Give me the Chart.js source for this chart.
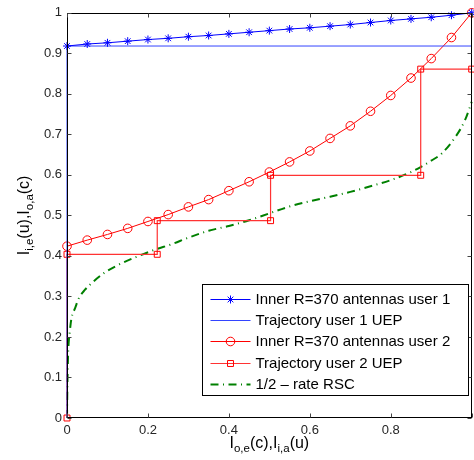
<!DOCTYPE html>
<html>
<head>
<meta charset="utf-8">
<script src="https://cdn.jsdelivr.net/npm/chart.js@4/dist/chart.umd.min.js"></script>
<style>
  html, body { margin: 0; padding: 0; background: #fff; overflow: hidden; }
  #wrap { width: 474px; height: 460px; overflow: hidden; }
  canvas { display: block; }
</style>
</head>
<body>
<div id="wrap"><canvas id="exitChart" width="477" height="460"></canvas></div>
<script>
// === DATOS ===
const seriesNames = [
    "Inner R=370 antennas user 1",
    "Trajectory user 1 UEP",
    "Inner R=370 antennas user 2",
    "Trajectory user 2 UEP",
    "1/2 \u2013 rate RSC"
];

// curvas de 0 a 1 cada 0.05
const innerX = [0, 0.05, 0.1, 0.15, 0.2, 0.25, 0.3, 0.35, 0.4, 0.45, 0.5,
                0.55, 0.6, 0.65, 0.7, 0.75, 0.8, 0.85, 0.9, 0.95, 1];
const inner1Y = [0.918, 0.923, 0.926, 0.930, 0.934, 0.937, 0.941, 0.944, 0.948, 0.952, 0.956,
                 0.960, 0.963, 0.967, 0.971, 0.976, 0.981, 0.985, 0.989, 0.994, 1.0];
const inner2Y = [0.424, 0.439, 0.453, 0.468, 0.485, 0.502, 0.521, 0.539, 0.561, 0.583, 0.607,
                 0.632, 0.659, 0.690, 0.721, 0.757, 0.796, 0.839, 0.887, 0.939, 1.0];

const traj1X = [0, 0, 1];
const traj1Y = [0, 0.918, 0.918];

const traj2X = [0, 0, 0.223, 0.223, 0.503, 0.503, 0.874, 0.874, 1];
const traj2Y = [0, 0.404, 0.404, 0.487, 0.487, 0.599, 0.599, 0.861, 0.861];

const rscX = [0, 0.0008, 0.002, 0.003, 0.007, 0.011, 0.02, 0.029, 0.044, 0.06, 0.089, 0.125, 0.17,
              0.219, 0.259, 0.3, 0.35, 0.4, 0.45, 0.5, 0.55, 0.6, 0.65, 0.7, 0.75, 0.8, 0.85,
              0.875, 0.9, 0.926, 0.96, 0.983, 1];
const rscY = [0, 0.07, 0.13, 0.165, 0.214, 0.246, 0.271, 0.295, 0.316, 0.332, 0.356, 0.377, 0.397,
              0.416, 0.429, 0.445, 0.462, 0.474, 0.488, 0.505, 0.522, 0.535, 0.546, 0.558, 0.572, 0.587, 0.607,
              0.620, 0.635, 0.653, 0.694, 0.734, 0.78];

const xTickValues = [0, 0.2, 0.4, 0.6, 0.8, 1];
const yTickValues = [0, 0.1, 0.2, 0.3, 0.4, 0.5, 0.6, 0.7, 0.8, 0.9, 1];

const FONT = '"Liberation Sans", Arial, Helvetica, sans-serif';
const pts = (xs, ys) => xs.map((x, i) => ({ x: x, y: ys[i] }));

// marco con ticks hacia dentro (estilo matlab)
const axisBox = {
    id: "axisBox",
    afterDatasetsDraw(chart) {
        const { ctx, chartArea: a, scales: { x, y } } = chart;
        const L = Math.round(a.left) + 0.5, R = Math.round(a.right) - 0.5;
        const T = Math.round(a.top) + 0.5, B = Math.round(a.bottom) - 0.5;
        ctx.save();
        ctx.lineWidth = 1;
        ctx.strokeStyle = "#000";
        ctx.strokeRect(L, T, R - L, B - T);
        ctx.strokeStyle = "#444";
        ctx.beginPath();
        x.ticks.forEach(t => {
            const px = Math.round(x.getPixelForValue(t.value)) + 0.5;
            ctx.moveTo(px, B); ctx.lineTo(px, B - 4);
            ctx.moveTo(px, T); ctx.lineTo(px, T + 4);
        });
        y.ticks.forEach(t => {
            const py = Math.round(y.getPixelForValue(t.value)) + 0.5;
            ctx.moveTo(L, py); ctx.lineTo(L + 4, py);
            ctx.moveTo(R, py); ctx.lineTo(R - 4, py);
        });
        ctx.stroke();
        ctx.restore();
    }
};

// texto con subindices
function drawSubText(ctx, parts, cx, cy) {
    const main = "16px " + FONT, sub = "11.5px " + FONT;
    let w = 0;
    parts.forEach(([t, s]) => { ctx.font = s ? sub : main; w += ctx.measureText(t).width; });
    let xx = cx - w / 2;
    parts.forEach(([t, s]) => {
        ctx.font = s ? sub : main;
        ctx.fillText(t, xx, cy + (s ? 4 : 0));
        xx += ctx.measureText(t).width;
    });
}

const axisTitles = {
    id: "axisTitles",
    afterDraw(chart) {
        const { ctx, chartArea: a } = chart;
        ctx.save();
        ctx.fillStyle = "#000";
        ctx.textBaseline = "alphabetic";
        ctx.textAlign = "left";
        drawSubText(ctx, [["I", 0], ["o,e", 1], ["(c),I", 0], ["i,a", 1], ["(u)", 0]],
                    (a.left + a.right) / 2, 448);
        ctx.translate(29, (a.top + a.bottom) / 2);
        ctx.rotate(-Math.PI / 2);
        drawSubText(ctx, [["I", 0], ["i,e", 1], ["(u),I", 0], ["o,a", 1], ["(c)", 0]], 0, 0);
        ctx.restore();
    }
};

// leyenda dentro del area
const boxLegend = {
    id: "boxLegend",
    afterDraw(chart) {
        const ctx = chart.ctx;
        const bx = 202.5, by = 284.5, bw = 266, bh = 111;
        ctx.save();
        ctx.fillStyle = "#fff";
        ctx.fillRect(bx, by, bw, bh);
        ctx.strokeStyle = "#000";
        ctx.lineWidth = 1;
        ctx.strokeRect(bx, by, bw, bh);
        ctx.textBaseline = "middle";
        chart.data.datasets.forEach((ds, i) => {
            const ry = Math.round(by + 14 + i * 21.4) + 0.5;
            ctx.save();
            ctx.strokeStyle = ds.borderColor;
            ctx.lineWidth = ds.borderWidth;
            ctx.setLineDash(ds.borderDash || []);
            ctx.beginPath();
            ctx.moveTo(bx + 8, ry); ctx.lineTo(bx + 48, ry);
            ctx.stroke();
            ctx.restore();
            if (ds.pointRadius > 0) {
                ctx.save();
                ctx.strokeStyle = ds.pointBorderColor;
                ctx.fillStyle = "rgba(0,0,0,0)";
                ctx.lineWidth = 1;
                Chart.helpers.drawPoint(ctx, { pointStyle: ds.pointStyle, radius: ds.pointRadius, rotation: 0, borderWidth: 1 }, bx + 28, ry);
                ctx.restore();
            }
            ctx.fillStyle = "#000";
            ctx.font = "15px " + FONT;
            ctx.fillText(ds.label, bx + 53, ry);
        });
        ctx.restore();
    }
};

const exitChart = new Chart(document.getElementById("exitChart"), {
    type: "scatter",
    data: {
        datasets: [
            {
                label: seriesNames[0],
                data: pts(innerX, inner1Y),
                showLine: true,
                borderColor: "#0000ff",
                borderWidth: 1,
                pointStyle: "star",
                pointRadius: 4,
                pointBorderColor: "#0000ff",
                pointBackgroundColor: "rgba(0,0,0,0)",
                pointBorderWidth: 1,
                clip: false
            },
            {
                label: seriesNames[1],
                data: pts(traj1X, traj1Y),
                showLine: true,
                borderColor: "#3344ff",
                borderWidth: 1,
                pointRadius: 0,
                clip: false
            },
            {
                label: seriesNames[2],
                data: pts(innerX, inner2Y),
                showLine: true,
                borderColor: "#ff0000",
                borderWidth: 1,
                pointStyle: "circle",
                pointRadius: 4.3,
                pointBorderColor: "#ff0000",
                pointBackgroundColor: "rgba(0,0,0,0)",
                pointBorderWidth: 1,
                clip: false
            },
            {
                label: seriesNames[3],
                data: pts(traj2X, traj2Y),
                showLine: true,
                borderColor: "#ff3333",
                borderWidth: 1.2,
                pointStyle: "rect",
                pointRadius: 4.2,
                pointBorderColor: "#ff0000",
                pointBackgroundColor: "rgba(0,0,0,0)",
                pointBorderWidth: 1,
                clip: false
            },
            {
                label: seriesNames[4],
                data: pts(rscX, rscY),
                showLine: true,
                borderColor: "#008000",
                borderWidth: 2,
                borderDash: [8, 4.5, 1, 4.5],
                cubicInterpolationMode: "monotone",
                pointRadius: 0,
                clip: false
            }
        ]
    },
    options: {
        responsive: false,
        animation: false,
        devicePixelRatio: 1,
        events: [],
        layout: { padding: { top: 8, left: 0, right: 0, bottom: 0 } },
        plugins: {
            legend: { display: false },
            tooltip: { enabled: false }
        },
        scales: {
            x: {
                type: "linear",
                min: 0,
                max: 1,
                afterBuildTicks: s => { s.ticks = xTickValues.map(v => ({ value: v })); },
                afterFit: s => { s.height = 42; },
                grid: { display: false, drawTicks: false },
                border: { display: false },
                ticks: {
                    padding: 5,
                    color: "#262626",
                    font: { family: FONT, size: 13 },
                    maxRotation: 0,
                    autoSkip: false,
                    callback: v => (v >= 1 ? "" : String(+v.toFixed(1)))
                }
            },
            y: {
                type: "linear",
                min: 0,
                max: 1,
                afterBuildTicks: s => { s.ticks = yTickValues.map(v => ({ value: v })); },
                afterFit: s => { s.width = 67; },
                grid: { display: false, drawTicks: false },
                border: { display: false },
                ticks: {
                    padding: 5,
                    color: "#262626",
                    font: { family: FONT, size: 13 },
                    autoSkip: false,
                    callback: v => String(+v.toFixed(1))
                }
            }
        }
    },
    plugins: [axisBox, axisTitles, boxLegend]
});
</script>
</body>
</html>
